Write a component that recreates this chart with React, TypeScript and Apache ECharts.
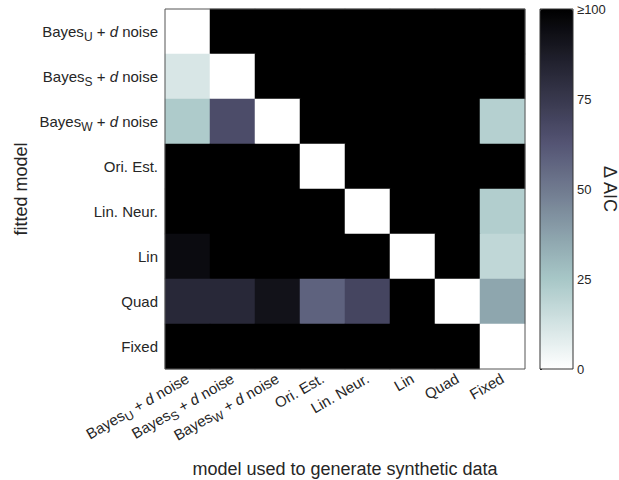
import React, { useEffect, useRef } from 'react';
import * as echarts from 'echarts';

// Models (used for both axes)
const generatingModels = ['Bayes_U + d noise', 'Bayes_S + d noise', 'Bayes_W + d noise', 'Ori. Est.', 'Lin. Neur.', 'Lin', 'Quad', 'Fixed'];
const fittedModels = ['Bayes_U + d noise', 'Bayes_S + d noise', 'Bayes_W + d noise', 'Ori. Est.', 'Lin. Neur.', 'Lin', 'Quad', 'Fixed'];

// ΔAIC per fitted model (row), across generating models (columns); capped at 100
const fitBayesU = [0, 100, 100, 100, 100, 100, 100, 100];
const fitBayesS = [11, 0, 100, 100, 100, 100, 100, 100];
const fitBayesW = [23, 66, 0, 100, 100, 100, 100, 21];
const fitOriEst = [100, 100, 100, 0, 100, 100, 100, 100];
const fitLinNeur = [100, 100, 100, 100, 0, 100, 100, 22];
const fitLin = [95, 100, 100, 100, 100, 0, 100, 18];
const fitQuad = [82, 82, 92, 58, 69, 100, 0, 36];
const fitFixed = [100, 100, 100, 100, 100, 100, 100, 0];

const rowsByFitted = [fitBayesU, fitBayesS, fitBayesW, fitOriEst, fitLinNeur, fitLin, fitQuad, fitFixed];

const colorbarMin = 0;
const colorbarMax = 100;
const colorbarInterval = 25;

// reversed "bone" colormap, low -> high
const boneReversed = ['#ffffff', '#d3e3e3', '#a7c7c7', '#8ba1ab', '#707a8f', '#545474', '#38384d', '#1c1c27', '#000000'];

const FONT = "'Liberation Sans', Arial, Helvetica, sans-serif";
const TEXT = '#262626';

function richLabel(name: string): string {
  const m = name.match(/^Bayes_(\w) \+ d noise$/);
  if (m) return `{n|Bayes}{sub|${m[1]}}{n| + }{it|d}{n| noise}`;
  return `{n|${name}}`;
}

const rich = {
  n: { fontSize: 15, color: TEXT, fontFamily: FONT },
  it: { fontSize: 15, color: TEXT, fontFamily: FONT, fontStyle: 'italic' },
  sub: { fontSize: 12, color: TEXT, fontFamily: FONT, padding: [10, 0, 0, 0] },
};

export default function App() {
  const ref = useRef<HTMLDivElement>(null);
  useEffect(() => {
    if (!ref.current) return;
    const chart = echarts.init(ref.current, null, { renderer: 'svg' });
    const data: [number, number, number][] = [];
    rowsByFitted.forEach((row, yi) => {
      row.forEach((v, xi) => data.push([xi, yi, v]));
    });
    chart.setOption({
      animation: false,
      backgroundColor: '#ffffff',
      textStyle: { fontFamily: FONT, color: TEXT },
      grid: [
        { left: 165, top: 9, width: 360, height: 360, outerBoundsMode: 'none', show: true, z: 10, borderColor: '#555', borderWidth: 1, backgroundColor: 'transparent' },
        { left: 540, top: 9, width: 33, height: 360, outerBoundsMode: 'none', show: true, z: 10, borderColor: '#333', borderWidth: 1, backgroundColor: 'transparent' },
      ],
      xAxis: [
        {
          type: 'category',
          gridIndex: 0,
          data: generatingModels,
          name: 'model used to generate synthetic data',
          nameLocation: 'middle',
          nameGap: 91,
          nameMoveOverlap: false,
          nameTextStyle: { fontSize: 18, color: TEXT, fontFamily: FONT },
          axisLine: { show: false },
          axisTick: { show: true, inside: true, alignWithLabel: true, length: 3, lineStyle: { color: '#666' } },
          axisLabel: { rotate: 30, margin: 8, formatter: richLabel, rich, interval: 0 },
          splitLine: { show: false },
        },
        { type: 'value', gridIndex: 1, show: false, min: 0, max: 1 },
      ],
      yAxis: [
        {
          type: 'category',
          gridIndex: 0,
          data: fittedModels,
          inverse: true,
          name: 'fitted model',
          nameLocation: 'middle',
          nameGap: 135,
          nameMoveOverlap: false,
          nameTextStyle: { fontSize: 18, color: TEXT, fontFamily: FONT },
          axisLine: { show: false },
          axisTick: { show: true, inside: true, alignWithLabel: true, length: 3, lineStyle: { color: '#666' } },
          axisLabel: { margin: 7, formatter: richLabel, rich, interval: 0 },
          splitLine: { show: false },
        },
        {
          type: 'value',
          gridIndex: 1,
          position: 'right',
          min: colorbarMin,
          max: colorbarMax,
          interval: colorbarInterval,
          name: 'Δ AIC',
          nameLocation: 'middle',
          nameRotate: -90,
          nameGap: 28,
          nameMoveOverlap: false,
          nameTextStyle: { fontSize: 18, color: TEXT, fontFamily: FONT },
          axisLine: { show: false },
          axisTick: { show: true, length: 2, lineStyle: { color: TEXT } },
          axisLabel: {
            margin: 4,
            fontSize: 13,
            color: TEXT,
            fontFamily: FONT,
            formatter: (v: number) => (v === colorbarMax ? '≥' + v : String(v)),
          },
          splitLine: { show: false },
        },
      ],
      visualMap: {
        type: 'continuous',
        seriesIndex: 0,
        min: colorbarMin,
        max: colorbarMax,
        orient: 'vertical',
        left: 540,
        top: 9,
        itemWidth: 33,
        itemHeight: 360,
        padding: 0,
        z: 1,
        calculable: false,
        hoverLink: false,
        inRange: { color: boneReversed },
      },
      series: [
        {
          type: 'heatmap',
          xAxisIndex: 0,
          yAxisIndex: 0,
          data,
          emphasis: { disabled: true },
          itemStyle: { borderWidth: 0 },
        },
        {
          type: 'line',
          xAxisIndex: 1,
          yAxisIndex: 1,
          data: [],
          silent: true,
        },
      ],
    });
    return () => chart.dispose();
  }, []);
  return <div ref={ref} style={{ position: 'fixed', left: 0, top: 0, width: 619, height: 480 }} />;
}
